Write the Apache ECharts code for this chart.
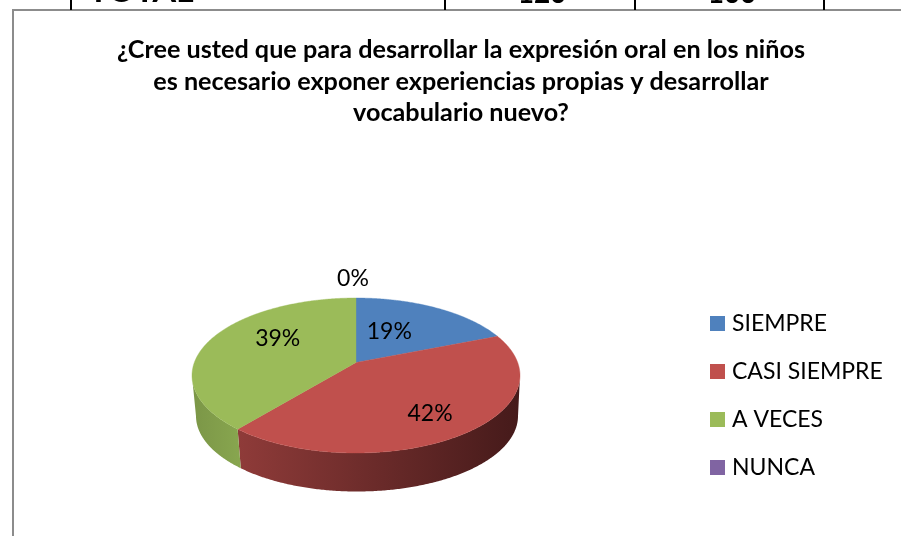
<!DOCTYPE html>
<html><head><meta charset="utf-8">
<style>html,body{margin:0;padding:0;background:#fff}#c{width:901px;height:536px}</style>
<script src="https://cdn.jsdelivr.net/npm/echarts@6/dist/echarts.min.js"></script>
</head><body><div id="c"></div>
<script>
const categories = ['SIEMPRE', 'CASI SIEMPRE', 'A VECES', 'NUNCA'];
const values = [19, 42, 39, 0];
const percentLabels = ['19%', '42%', '39%', '0%'];
const titleLines = ['¿Cree usted que para desarrollar la expresión oral en los niños',
  'es necesario exponer experiencias propias y desarrollar', 'vocabulario nuevo?'];
const tableCells = ['TOTAL', '120', '100'];

const colors = ['#4F81BD', '#C0504D', '#9BBB59', '#8064A2'];
const wallColors = [['#3b6190', '#2a4566'], ['#8f3b39', '#451a1a'], ['#7b9647', '#88a64f'], ['#604b7a', '#45365a']];
const FONT = 'Lato, "Open Sans", sans-serif';

// layout of the tilted pie
const top3d = {cx: 356, cy: 375.5, rx: 164, ry: 77.5, c: 0.168};
const bot3d = {cx: 357, cy: 416, rx: 161, ry: 75.5, c: 0.168};
const labelNudge = [[-17, 4], [12, 11], [10, -9], [-3, -19]];
const cellLayout = [{x: 141, y: -26, size: 34}, {x: 542, y: -20, size: 28}, {x: 732, y: -20, size: 28}];

const total = values.reduce((a, b) => a + b, 0);
function project(e, t, theta) {
  const u = t * Math.sin(theta), v = t * Math.cos(theta), d = 1 + e.c * v;
  const X = u * Math.sqrt(1 - e.c * e.c) / d, Y = (v + e.c) / d;
  return [e.cx + e.rx * X, e.cy - e.ry * Y];
}
function frontFacing(theta) {
  const v = Math.cos(theta);
  return (v + top3d.c) / (1 + top3d.c * v) <= 0;
}
function sliceRenderer(i) {
  return function () {
    const before = values.slice(0, i).reduce((a, b) => a + b, 0);
    const a0 = before / total * 2 * Math.PI, a1 = (before + values[i]) / total * 2 * Math.PI;
    const children = [];
    const N = Math.max(2, Math.ceil((a1 - a0) / (Math.PI / 360)));
    const arc = [];
    const wallTop = [], wallBot = [];
    for (let k = 0; k <= N; k++) {
      const th = a0 + (a1 - a0) * k / N;
      arc.push(project(top3d, 1, th));
      if (frontFacing(th)) {
        wallTop.push(project(top3d, 1, th));
        wallBot.push(project(bot3d, 1, th));
      }
    }
    if (wallTop.length > 1 && values[i] > 0) {
      children.push({
        type: 'polygon', z2: 1,
        shape: {points: wallTop.concat(wallBot.slice().reverse())},
        style: {fill: new echarts.graphic.LinearGradient(0, 0, 1, 0,
          [{offset: 0, color: wallColors[i][0]}, {offset: 1, color: wallColors[i][1]}]),
          stroke: null}
      });
    }
    if (values[i] > 0) {
      children.push({
        type: 'polygon', z2: 2,
        shape: {points: [project(top3d, 0, 0)].concat(arc)},
        style: {fill: colors[i], stroke: colors[i], lineWidth: 0.4}
      });
    }
    const mid = (a0 + a1) / 2;
    const p = project(top3d, values[i] > 0 ? 0.6 : 1, mid);
    children.push({
      type: 'text', z2: 5,
      x: p[0] + labelNudge[i][0], y: p[1] + labelNudge[i][1],
      style: {text: percentLabels[i], font: '23px ' + FONT, fill: '#000', align: 'center', verticalAlign: 'middle'}
    });
    return {type: 'group', children};
  };
}

const chart = echarts.init(document.getElementById('c'), null, {renderer: 'canvas'});
const tableXs = [71, 445, 635, 824];
const graphics = [
  {type: 'rect', z: 1, shape: {x: 13, y: 10, width: 900, height: 540}, style: {fill: '#fff', stroke: '#8c8c8c', lineWidth: 2}}
].concat(tableXs.map(x => ({type: 'line', z: 2, shape: {x1: x, y1: 0, x2: x, y2: 10}, style: {stroke: '#000', lineWidth: 2}})))
 .concat(tableCells.map((t, i) => ({
   type: 'text', z: 0,
   x: cellLayout[i].x, y: cellLayout[i].y,
   style: {text: t, font: 'bold ' + cellLayout[i].size + 'px ' + FONT, fill: '#000', align: 'center', verticalAlign: 'top'}
 })))
 .concat(titleLines.map((t, i) => ({
   type: 'text', z: 3,
   x: 461, y: 50 + i * 31.5,
   style: {text: t, font: 'bold 25.2px ' + FONT, fill: '#000', align: 'center', verticalAlign: 'middle'}
 })));

chart.setOption({
  animation: false,
  backgroundColor: '#fff',
  color: colors,
  graphic: graphics,
  legend: {
    left: 710, top: 312, orient: 'vertical', icon: 'rect', padding: 0,
    itemWidth: 15, itemHeight: 15, itemGap: 25,
    selectedMode: false,
    textStyle: {fontFamily: FONT, fontSize: 23, color: '#000', padding: [0, 0, 0, 2], lineHeight: 15},
    data: categories
  },
  series: categories.map((name, i) => ({
    type: 'custom', name, coordinateSystem: 'none', silent: true, z: 5,
    itemStyle: {color: colors[i]},
    renderItem: sliceRenderer(i),
    data: [values[i]]
  }))
});
</script></body></html>
